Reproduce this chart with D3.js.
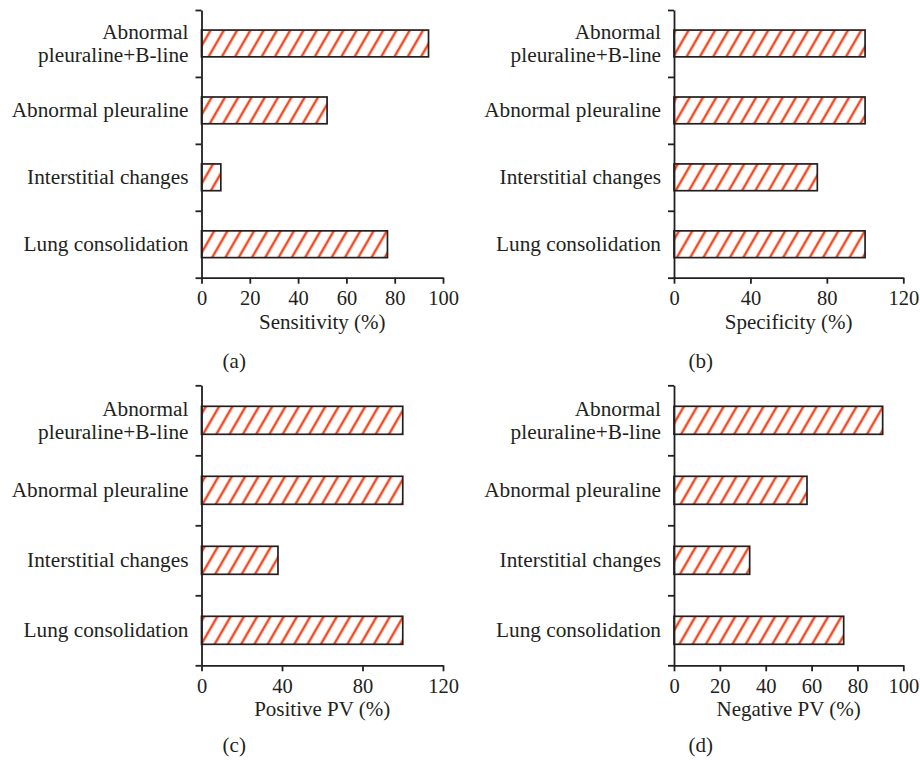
<!DOCTYPE html>
<html>
<head>
<meta charset="utf-8">
<script src="https://cdn.jsdelivr.net/npm/d3@7"></script>
<style>
  body { margin: 0; background: #fff; }
  svg { display: block; }
  text { font-family: "Liberation Serif", "DejaVu Serif", serif; fill: #231f20; }
</style>
</head>
<body>
<svg id="chart"></svg>
<script>
// Categories, top to bottom
const categories = [
    "Abnormal pleuraline+B-line",
    "Abnormal pleuraline",
    "Interstitial changes",
    "Lung consolidation"
];

// Values (%)
const sensitivity = [94, 52, 8, 77];
const specificity = [100, 100, 75, 100];
const positivePV = [100, 100, 38, 100];
const negativePV = [91, 58, 33, 74];

// Tick labels for the x axes
const ticks100 = [0, 20, 40, 60, 80, 100];
const ticks120 = [0, 40, 80, 120];

const ink = "#231f20";
const hatch = "#ef4b24";

const svg = d3.select("#chart")
    .attr("width", 920)
    .attr("height", 762);

// Hatch pattern for the bars
const pattern = svg.append("defs").append("pattern")
    .attr("id", "hatch")
    .attr("patternUnits", "userSpaceOnUse")
    .attr("width", 11.5)
    .attr("height", 11.5)
    .attr("patternTransform", "rotate(30)");
pattern.append("rect")
    .attr("width", 11.5)
    .attr("height", 11.5)
    .attr("fill", "#fff");
pattern.append("line")
    .attr("x1", 2).attr("y1", -1)
    .attr("x2", 2).attr("y2", 13)
    .attr("stroke", hatch)
    .attr("stroke-width", 2.5);

// One panel per metric
const panels = [
    { values: sensitivity, title: "Sensitivity (%)", tag: "(a)", max: 100, ticks: ticks100, x0: 201.5, x1: 443, y0: 10, y1: 277.7, tagY: 368 },
    { values: specificity, title: "Specificity (%)", tag: "(b)", max: 120, ticks: ticks120, x0: 674, x1: 903.3, y0: 10, y1: 277.7, tagY: 368 },
    { values: positivePV, title: "Positive PV (%)", tag: "(c)", max: 120, ticks: ticks120, x0: 201.5, x1: 443, y0: 385.3, y1: 665.3, tagY: 752 },
    { values: negativePV, title: "Negative PV (%)", tag: "(d)", max: 100, ticks: ticks100, x0: 674, x1: 903.3, y0: 385.3, y1: 665.3, tagY: 752 }
];

panels.forEach(p => {
    const g = svg.append("g");

    const x = d3.scaleLinear()
        .domain([0, p.max])
        .range([p.x0, p.x1]);

    const y = d3.scaleBand()
        .domain(categories)
        .range([p.y0, p.y1])
        .paddingInner(0.6)
        .paddingOuter(0.3);

    // Band edges for the y tick marks
    const yEdge = d3.scaleLinear()
        .domain([0, categories.length])
        .range([p.y0, p.y1]);

    // Bars
    g.selectAll(".bar")
        .data(p.values)
        .enter().append("rect")
        .attr("class", "bar")
        .attr("x", x(0))
        .attr("y", (d, i) => y(categories[i]))
        .attr("width", d => x(d) - x(0))
        .attr("height", y.bandwidth())
        .attr("fill", "url(#hatch)")
        .attr("stroke", ink)
        .attr("stroke-width", 1.7);

    // Y axis with ticks between categories
    const yAxis = g.append("g")
        .attr("transform", "translate(" + p.x0 + ",0)")
        .call(d3.axisLeft(yEdge)
            .ticks(categories.length)
            .tickSize(6)
            .tickSizeOuter(0)
            .tickFormat(""));
    yAxis.selectAll("path, line")
        .attr("stroke", ink)
        .attr("stroke-width", 1.8);

    // X axis
    const xAxis = g.append("g")
        .attr("transform", "translate(0," + p.y1 + ")")
        .call(d3.axisBottom(x)
            .tickValues(p.ticks)
            .tickSize(6)
            .tickSizeOuter(0)
            .tickPadding(7));
    xAxis.selectAll("path, line")
        .attr("stroke", ink)
        .attr("stroke-width", 1.8);
    xAxis.selectAll("text")
        .style("font-family", "'Liberation Serif', serif")
        .style("font-size", "20.5px")
        .attr("fill", ink);

    // Category labels (first one wraps onto two lines)
    categories.forEach(c => {
        const cy = y(c) + y.bandwidth() / 2;
        const t = g.append("text")
            .attr("text-anchor", "end")
            .attr("x", p.x0 - 13)
            .style("font-size", "21.3px");
        if (c === "Abnormal pleuraline+B-line") {
            t.append("tspan").attr("x", p.x0 - 13).attr("y", cy - 4).text("Abnormal");
            t.append("tspan").attr("x", p.x0 - 13).attr("y", cy + 19).text("pleuraline+B-line");
        } else {
            t.attr("y", cy + 7).text(c);
        }
    });

    // Axis title
    g.append("text")
        .attr("x", (p.x0 + p.x1) / 2)
        .attr("y", p.y1 + 51)
        .attr("text-anchor", "middle")
        .style("font-size", "21px")
        .text(p.title);

    // Panel tag
    g.append("text")
        .attr("x", (p.x0 + p.x1) / 2 - 88)
        .attr("y", p.tagY)
        .attr("text-anchor", "middle")
        .style("font-size", "21px")
        .text(p.tag);
});
</script>
</body>
</html>
